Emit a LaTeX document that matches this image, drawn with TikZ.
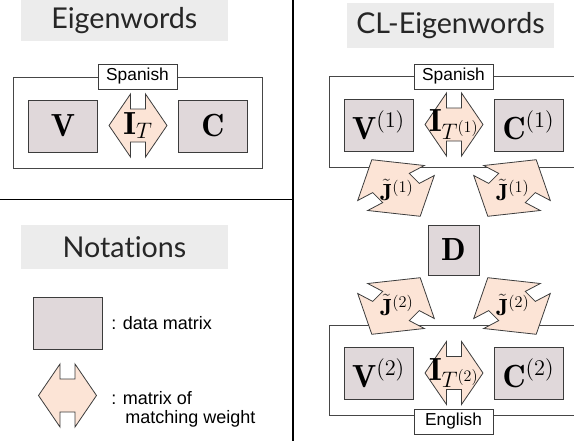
\RequirePackage{fix-cm}
\documentclass[tikz,border=0pt]{standalone}
\usepackage{fontspec}
\setsansfont{Liberation Sans}
\newfontfamily\titlefont[Ligatures=NoCommon]{Lato}
\usepackage{amsmath}
\definecolor{matfill}{RGB}{224,216,218}
\definecolor{wfill}{RGB}{252,228,214}
\definecolor{titlebg}{RGB}{236,236,236}
\definecolor{edge}{RGB}{60,60,60}
\definecolor{framecol}{RGB}{70,70,70}
\newcommand\matfont{\fontsize{24}{28}\selectfont}
\newcommand\jfont{\fontsize{17.5}{20}\selectfont}

\tikzset{
  datamat/.style={draw=edge, fill=matfill, line width=0.75pt, inner sep=0pt,
    minimum width=51.75pt, minimum height=39pt, font=\matfont},
  titlebox/.style={fill=titlebg, inner sep=0pt, minimum width=155pt,
    text=black!85, font=\titlefont\fontsize{21.5}{24}\selectfont},
  langlabel/.style={draw=edge, fill=white, line width=0.75pt, inner sep=0pt,
    minimum width=59.25pt, minimum height=18.75pt, font=\sffamily\fontsize{13}{15}\selectfont},
  framestyle/.style={draw=framecol, line width=0.75pt},
  divider/.style={draw=black, line width=1.1pt},
  wstyle/.style={draw=edge, fill=wfill, line width=0.6pt, line join=miter},
  legendtext/.style={anchor=west, inner sep=0pt, font=\sffamily\fontsize{13.5}{16}\selectfont},
  weightarrow/.pic={
    \path[wstyle] (-29,0) -- (-7.5,-31.5) -- (-7.5,-16.5) -- (7.5,-16.5) -- (7.5,-31.5)
      -- (29,0) -- (7.5,31.5) -- (7.5,16.5) -- (-7.5,16.5) -- (-7.5,31.5) -- cycle;
  },
  jarrow/.pic={
    \path[wstyle] (-24.2,-28.3) -- (28.3,-22.5) -- (13.3,-14.6) -- (23.3,-4.6) -- (38.3,-12.5)
      -- (24.2,28.3) -- (-28.3,22.5) -- (-13.3,14.6) -- (-23.3,4.6) -- (-38.3,12.5) -- cycle;
  }
}

\begin{document}
\begin{tikzpicture}[x=0.75pt,y=-0.75pt]
\useasboundingbox (0,0) rectangle (574,446);

% ---- dividers
\coordinate (vtop) at (293,0);
\coordinate (vbot) at (293,441);
\coordinate (hleft) at (0,199.5);
\coordinate (hright) at (293,199.5);
\draw[divider] (vtop) -- (vbot);
\draw[divider] (hleft) -- (hright);

% ---- titles
\node[titlebox, minimum height=30.75pt] (t1) at (124.3,20.5) {Eigenwords};
\node[titlebox, minimum height=33.75pt] (t2) at (450.5,25.5) {CL-Eigenwords};
\node[titlebox, minimum height=33pt] (t3) at (124.5,247) {Notations};

% ---- single-language model
\draw[framestyle] (13,77) rectangle (262,168);
\node[datamat] (V) at (63,126) {$\mathbf{V}$};
\node[datamat] (C) at (213,126) {$\mathbf{C}$};
\pic at (138,125.5) {weightarrow};
\node[font=\matfont, inner sep=0pt] (IT) at (138,125.5) {$\mathbf{I}_T$};
\node[langlabel] (sp0) at (137.5,76.5) {Spanish};

% ---- cross-lingual model: frames
\draw[framestyle] (574,76) -| (329,167) -- (574,167);
\draw[framestyle] (574,325) -| (329,415) -- (574,415);

% Spanish block
\node[datamat] (V1) at (378.5,125) {$\mathbf{V}^{(1)}$};
\node[datamat] (C1) at (528.5,125) {$\mathbf{C}^{(1)}$};
\pic at (454,124.5) {weightarrow};
\node[font=\matfont, inner sep=0pt] (IT1) at (454,124.5) {$\mathbf{I}_{T^{(1)}}$};

% English block
\node[datamat] (V2) at (378.5,373.5) {$\mathbf{V}^{(2)}$};
\node[datamat] (C2) at (528.5,373.5) {$\mathbf{C}^{(2)}$};
\pic at (454,373) {weightarrow};
\node[font=\matfont, inner sep=0pt] (IT2) at (454,373) {$\mathbf{I}_{T^{(2)}}$};

% shared matrix
\node[datamat, minimum width=38.25pt, minimum height=37.5pt] (D) at (453.5,250) {$\mathbf{D}$};

% matching weights between languages
\pic at (396,188) {jarrow};
\pic[xscale=-1] at (512,188) {jarrow};
\pic[yscale=-1] at (396,306) {jarrow};
\pic at (512,306) {jarrow};
\node[font=\jfont, inner sep=0pt] (J1a) at (397,190) {$\tilde{\mathbf{J}}^{(1)}$};
\node[font=\jfont, inner sep=0pt] (J1b) at (513,190) {$\tilde{\mathbf{J}}^{(1)}$};
\node[font=\jfont, inner sep=0pt] (J2a) at (397,305) {$\tilde{\mathbf{J}}^{(2)}$};
\node[font=\jfont, inner sep=0pt] (J2b) at (513,305) {$\tilde{\mathbf{J}}^{(2)}$};

% language labels
\node[langlabel] (sp1) at (453.5,76.5) {Spanish};
\node[langlabel] (en2) at (453.5,421.5) {English};

% ---- legend
\node[datamat] (legmat) at (67.5,323) {};
\node[legendtext] (legmattext) at (111,323) {: data matrix};
\pic at (67.5,395.5) {weightarrow};
\coordinate (legw) at (67.5,395.5);
\node[legendtext] (legwtext1) at (111,398) {: matrix of};
\node[legendtext] (legwtext2) at (125,418.5) {matching weight};
\end{tikzpicture}
\end{document}
